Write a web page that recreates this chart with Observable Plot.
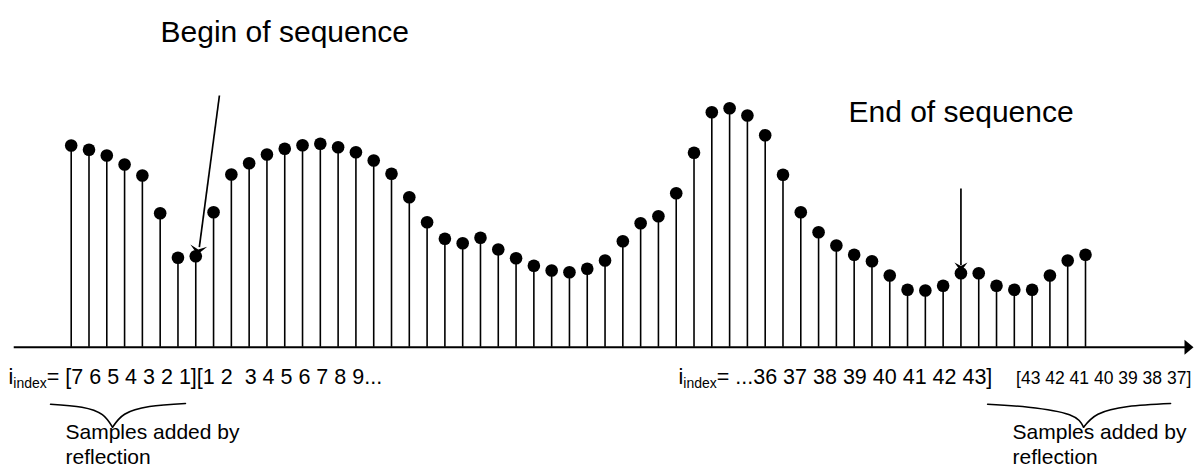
<!DOCTYPE html>
<html><head><meta charset="utf-8">
<script src="https://cdn.jsdelivr.net/npm/d3@7"></script>
<script src="https://cdn.jsdelivr.net/npm/@observablehq/plot@0.6"></script>
<style>
html,body{margin:0;padding:0;background:#fff;}
#chart svg{display:block;background:#fff;}
#chart text{white-space:pre;}
</style></head><body><div id="chart"></div>
<script>
// Sample amplitudes (58 stems, left to right)
const amplitude = [201.7,197.4,191.7,182.7,171.7,134,89.4,91,135,172.7,184,192.7,198.4,202,203.4,200,195,186.7,173.4,150,125,108.4,104,109.4,97.7,89,81.4,76.7,75,78.4,86.7,106,124,131,154,194.4,235,239,231.7,212,172.4,135,115,101.7,92.4,86,71.7,57.4,56.7,61.4,74,74,61.4,57.4,57.4,71.7,86.7,92.4];

// Texts
const headlines = ["Begin of sequence", "End of sequence"];
const indexLabels = ["[7 6 5 4 3 2 1][1 2  3 4 5 6 7 8 9...", "...36 37 38 39 40 41 42 43]"];
const reflectedLabel = "[43 42 41 40 39 38 37]";
const captions = ["Samples added by\nreflection", "Samples added by\nreflection"];

// Annotation anchors (sample index / amplitude units)
const headlinePos = [{x: 5.02, y: 305}, {x: 43.68, y: 225}];
const indexLabelPos = [{x: -3.52, y: -36.3}, {x: 34.13, y: -36.3}];
const reflectedPos = {x: 53.1, y: -36.3};
const captionPos = [{x: -0.32, y: -116.8}, {x: 52.9, y: -116.8}];

const headlineData = headlines.map((t, i) => ({t, ...headlinePos[i]}));
const labelData = indexLabels.map((t, i) => ({t: "iindex= " + t, ...indexLabelPos[i]}));
const reflectedData = [{t: reflectedLabel, ...reflectedPos}];
const captionData = captions.map((t, i) => ({t, ...captionPos[i]}));

const braces = [
  {part: "L1", x: -1.16, y: -57}, {part: "L1", x: 0.6, y: -60}, {part: "L1", x: 1.75, y: -67.5}, {part: "L1", x: 2.32, y: -80},
  {part: "L2", x: 2.32, y: -80}, {part: "L2", x: 3.0, y: -67}, {part: "L2", x: 4.4, y: -59.3}, {part: "L2", x: 6.42, y: -56.3},
  {part: "R1", x: 51.5, y: -57}, {part: "R1", x: 53.8, y: -60}, {part: "R1", x: 56.1, y: -67.5}, {part: "R1", x: 56.89, y: -80},
  {part: "R2", x: 56.89, y: -80}, {part: "R2", x: 57.7, y: -67}, {part: "R2", x: 59.4, y: -59.3}, {part: "R2", x: 61.78, y: -56.3}
];

const shafts = [
  {x1: 8.33, y1: 251.7, x2: 7.2, y2: 100},
  {x1: 50, y1: 158.7, x2: 50, y2: 82},
  {x1: -3.23, y1: 0, x2: 62.7, y2: 0}
];

const heads = [
  {x: 7.1, y: 92.7, rotate: 187.9, kind: "b"},
  {x: 50, y: 75.7, rotate: 180, kind: "e"},
  {x: 63.07, y: 0, rotate: 90, kind: "a"}
];

function arrowHead(L, W, n) {
  return {draw(ctx) {
    ctx.moveTo(0, 0);
    ctx.lineTo(W / 2, L);
    ctx.lineTo(0, L - n);
    ctx.lineTo(-W / 2, L);
    ctx.closePath();
  }};
}

const font = "'Liberation Sans', Arial, Helvetica, sans-serif";

const plot = Plot.plot({
  width: 1194,
  height: 471,
  margin: 0,
  style: {fontFamily: font, background: "#fff", color: "black"},
  x: {domain: [0, 57], range: [70.7, 1085], axis: null},
  y: {domain: [-124.3, 346.7], range: [471, 0], axis: null},
  marks: [
    Plot.ruleX(amplitude, {x: (d, i) => i, y1: 0, y2: d => d, stroke: "black", strokeWidth: 1.6}),
    Plot.dot(amplitude, {x: (d, i) => i, y: d => d, r: 6.3, fill: "black", stroke: "none"}),
    Plot.link(shafts, {x1: "x1", y1: "y1", x2: "x2", y2: "y2", stroke: "black", strokeWidth: (d, i) => i === 2 ? 2 : 1.7}),
    Plot.dot(heads.filter(d => d.kind === "b"), {x: "x", y: "y", rotate: "rotate", r: 5, symbol: arrowHead(9, 17, 4), fill: "black", stroke: "none"}),
    Plot.dot(heads.filter(d => d.kind === "e"), {x: "x", y: "y", rotate: "rotate", r: 5, symbol: arrowHead(9, 13, 3.5), fill: "black", stroke: "none"}),
    Plot.dot(heads.filter(d => d.kind === "a"), {x: "x", y: "y", rotate: "rotate", r: 5, symbol: arrowHead(9, 15, 0), fill: "black", stroke: "none"}),
    Plot.line(braces, {x: "x", y: "y", z: "part", curve: "natural", stroke: "black", strokeWidth: 1.6}),
    Plot.text(headlineData, {x: "x", y: "y", text: "t", textAnchor: "start", lineAnchor: "bottom", fontSize: 30, fill: "black"}),
    Plot.text(labelData, {x: "x", y: "y", text: "t", textAnchor: "start", lineAnchor: "bottom", fontSize: 21.5, fill: "black"}),
    Plot.text(reflectedData, {x: "x", y: "y", text: "t", textAnchor: "start", lineAnchor: "bottom", fontSize: 17.5, fill: "black"}),
    Plot.text(captionData, {x: "x", y: "y", text: "t", textAnchor: "start", lineAnchor: "bottom", fontSize: 21, lineHeight: 1.2, fill: "black"})
  ]
});

// Subscript "index" after the leading "i"
d3.select(plot).selectAll("text").each(function() {
  const el = d3.select(this);
  const full = this.textContent;
  if (full.startsWith("iindex=")) {
    const rest = full.slice(6);
    el.text(null);
    el.append("tspan").text("i");
    el.append("tspan").attr("font-size", 14).attr("dy", 4).text("index");
    el.append("tspan").attr("dy", -4).text(rest);
  }
});

document.getElementById("chart").appendChild(plot);
</script></body></html>
